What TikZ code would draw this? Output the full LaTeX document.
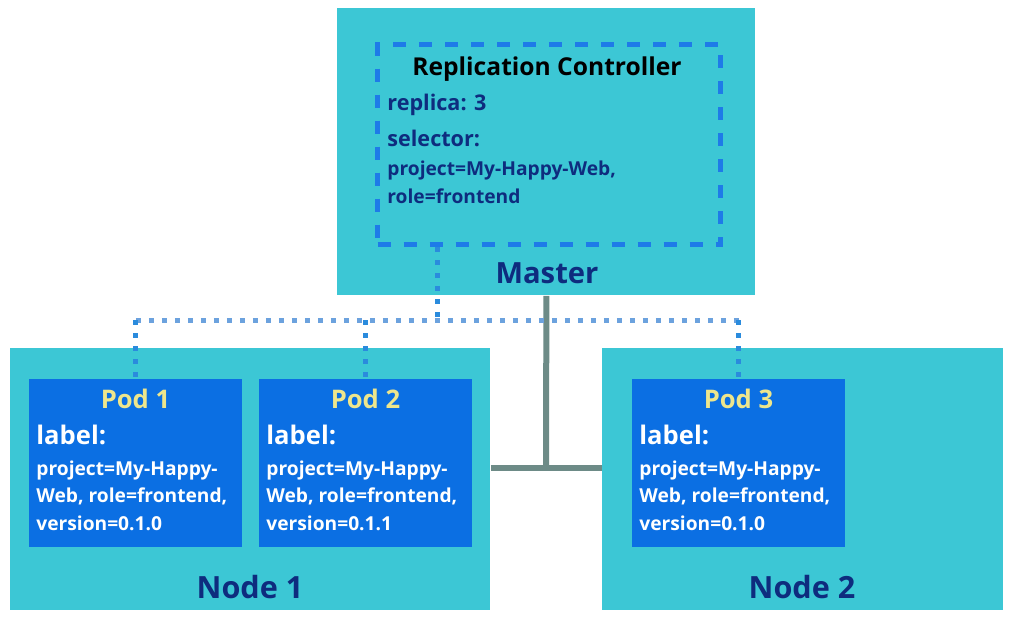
\documentclass[tikz,border=0pt]{standalone}
\usepackage{fontspec}
\setmainfont{Open Sans}
\usetikzlibrary{positioning}
\definecolor{host}{HTML}{3CC7D5}
\definecolor{pod}{HTML}{0B6FE3}
\definecolor{podhead}{HTML}{EEE68C}
\definecolor{navy}{HTML}{0E2C7E}
\definecolor{rcline}{HTML}{1E7BE8}
\definecolor{dropline}{HTML}{2A8BDD}
\definecolor{busline}{HTML}{6CA2DE}
\definecolor{wire}{HTML}{6D8B87}
\tikzset{
  hostbox/.style={rectangle, fill=host, anchor=north west, inner sep=0pt},
  podbox/.style={rectangle, fill=pod, anchor=north west, inner sep=0pt,
    minimum width=106.5pt, minimum height=84pt},
  rcbox/.style={rectangle, draw=rcline, line width=2.7pt, dash pattern=on 6.5pt off 6.5pt,
    anchor=north west, inner sep=0pt, minimum width=171.5pt, minimum height=100pt},
  hosttitle/.style={font=\bfseries\fontsize{15.3}{17}\selectfont, text=navy, anchor=base},
  podtitle/.style={font=\bfseries\fontsize{12.8}{14}\selectfont, text=podhead, anchor=base},
  podtext/.style={font=\bfseries\fontsize{9.6}{11}\selectfont, text=white, anchor=base west, inner sep=0pt},
  rctext/.style={font=\bfseries\fontsize{9.6}{11}\selectfont, text=navy, anchor=base west, inner sep=0pt},
  drop/.style={draw=dropline, line width=2.5pt, dash pattern=on 2.5pt off 4pt},
  bus/.style={drop, draw=busline},
  wireline/.style={draw=wire, line width=3pt},
}
% pod: name, left x, title, version
\newcommand{\pod}[4]{
  \node[podbox] (#1) at (#2,379) {};
  \node[podtitle] at ({#2+106.5},408) {#3};
  \node[podtext, font=\bfseries\fontsize{12.8}{14}\selectfont] at ({#2+7},444) {label:};
  \foreach \t [count=\i] in {{project=My-Happy-},{Web, role=frontend,},{version=#4}}
    \node[podtext] at ({#2+7},{96+27.5*(\i-1)+379}) {\t};
}

\begin{document}
\begin{tikzpicture}[x=0.5pt, y=-0.5pt]
  \useasboundingbox[fill=white] (0,0) rectangle (1012,617);

  % hosts
  \node[hostbox, minimum width=209pt, minimum height=143.5pt] (master) at (337,8) {};
  \node[hostbox, minimum width=240pt, minimum height=131pt] (node1) at (10,348) {};
  \node[hostbox, minimum width=200.5pt, minimum height=131pt] (node2) at (602,348) {};
  \node[hosttitle, font=\bfseries\fontsize{14.6}{16}\selectfont] at (547,283) {Master};
  \node[hosttitle] at (250,598) {Node 1};
  \node[hosttitle] at (802,598) {Node 2};

  % replication controller
  \node[rcbox] (rc) at (375,42) {};
  \node[font=\bfseries\fontsize{12.3}{14}\selectfont, anchor=base] at (547,75) {Replication Controller};
  \node[rctext, font=\bfseries\fontsize{10.8}{12}\selectfont] at (387,110) {replica: 3};
  \node[rctext, font=\bfseries\fontsize{10.8}{12}\selectfont] at (387,146) {selector:};
  \node[rctext] at (387,175) {project=My-Happy-Web,};
  \node[rctext] at (387,203) {role=frontend};

  % pods
  \pod{pod1}{29}{Pod 1}{0.1.0}
  \pod{pod2}{259}{Pod 2}{0.1.1}
  \pod{pod3}{632}{Pod 3}{0.1.0}

  % network between hosts
  \coordinate (hub) at (546,468);
  \draw[wireline] (master.south) -- (hub);
  \draw[wireline] (node1.east |- hub) -- (node2.west |- hub);

  % selector links
  \coordinate (tap) at (437,320);
  \draw[bus] (pod1.north |- tap) -- (pod3.north |- tap);
  \draw[drop] (tap |- rc.south) -- (tap);
  \foreach \p in {pod1,pod2,pod3}
    \draw[drop] (\p.north |- tap) -- (\p.north);
\end{tikzpicture}
\end{document}
